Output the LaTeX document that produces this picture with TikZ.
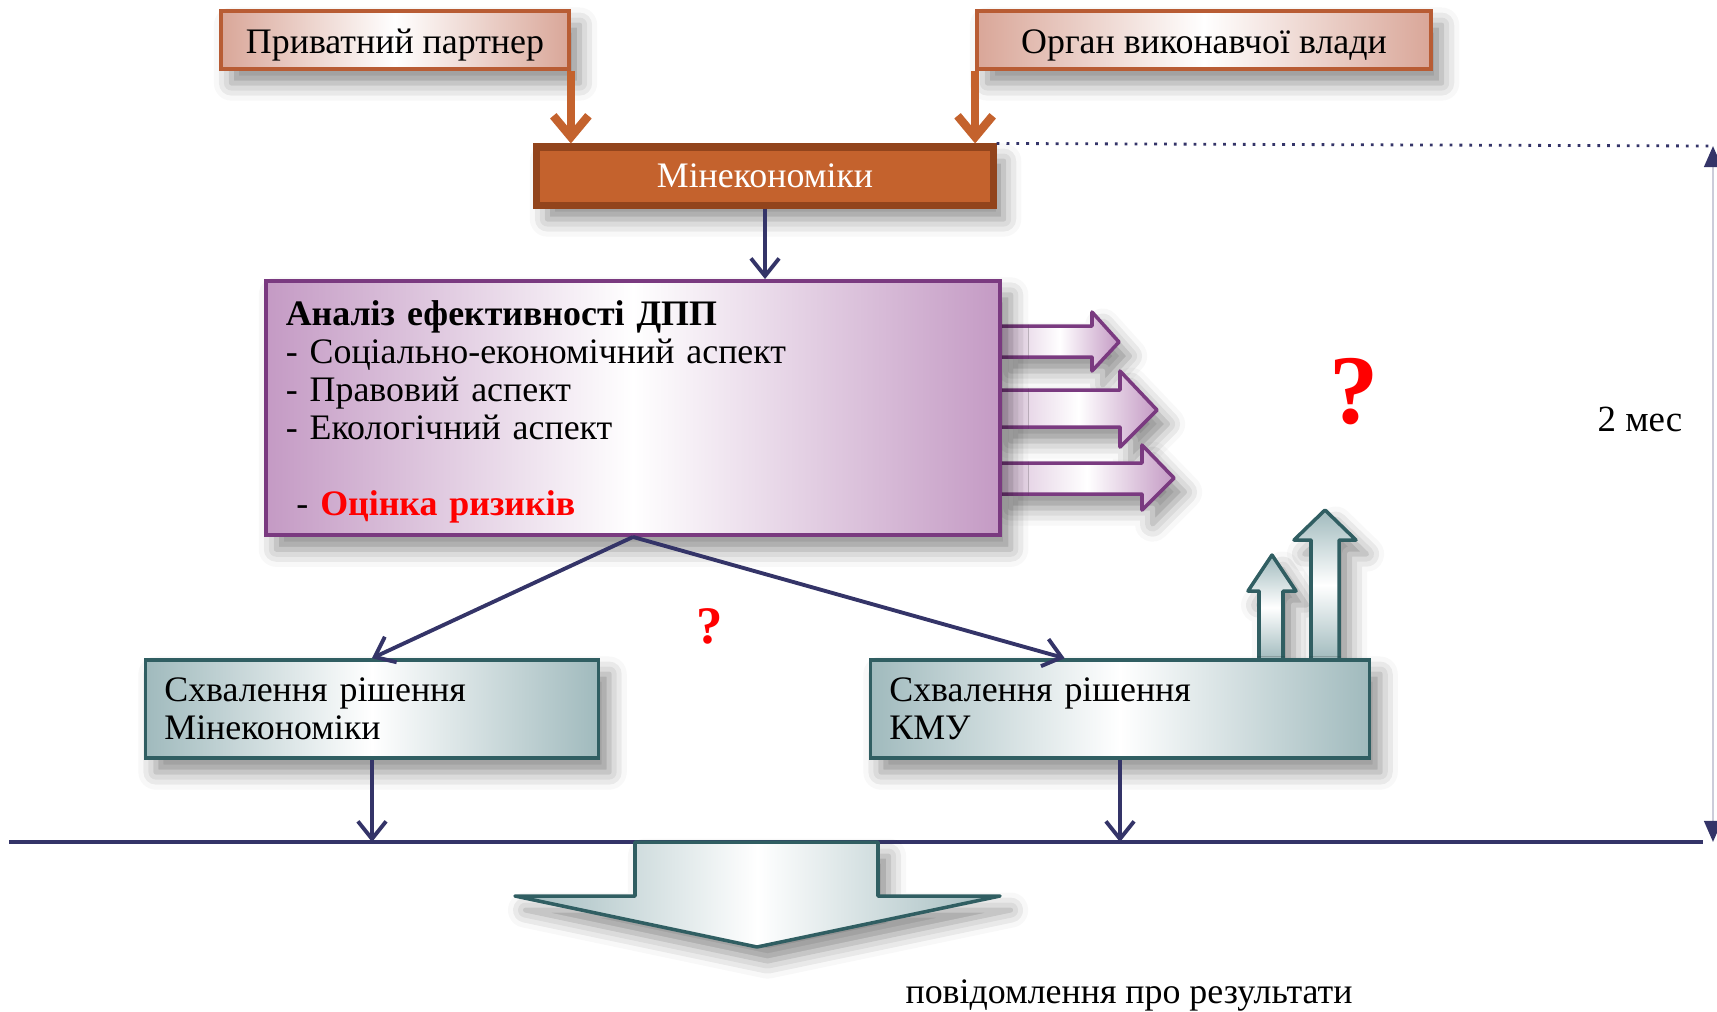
\documentclass[tikz,border=0pt]{standalone}
\usepackage{fontspec}
\setmainfont{Liberation Serif}
\usetikzlibrary{arrows.meta,calc,shadows.blur}

\definecolor{rose}{RGB}{217,166,152}
\definecolor{roseline}{RGB}{184,92,52}
\definecolor{rust}{RGB}{196,98,45}
\definecolor{rustline}{RGB}{146,68,28}
\definecolor{navy}{RGB}{52,52,104}
\definecolor{lilac}{RGB}{196,154,196}
\definecolor{lilacline}{RGB}{122,58,128}
\definecolor{sage}{RGB}{160,186,189}
\definecolor{sageline}{RGB}{48,94,98}

\begin{document}
\begin{tikzpicture}[x=0.01cm,y=-0.01cm,
  font=\fontsize{10.2}{10.8}\selectfont,
  soft/.style={blur shadow={shadow xshift=3pt,shadow yshift=-4pt,shadow blur radius=5pt,shadow opacity=45}},
  party/.style={draw=roseline,line width=1pt,left color=rose,right color=rose,middle color=white,minimum height=0.58cm,inner ysep=0pt,text height=10pt,text depth=2.5pt,soft},
  ministry/.style={draw=rustline,line width=2pt,fill=rust,text=white,minimum width=4.56cm,minimum height=0.58cm,soft},
  analysis/.style={draw=lilacline,line width=1pt,left color=lilac,right color=lilac,middle color=white,text width=6.94cm,inner xsep=0.2cm,minimum height=2.52cm,align=left,soft},
  decision/.style={draw=sageline,line width=1pt,left color=sage,right color=sage,middle color=white,inner xsep=0.19cm,minimum height=0.98cm,align=left,soft},
  feed/.style={draw=rust,line width=2.4pt,-{Straight Barb[length=6pt,width=10pt]}},
  link/.style={draw=navy,line width=1.1pt,-{Straight Barb[length=5pt,width=8pt]}},
  dimline/.style={draw=navy!25,line width=0.8pt,{Triangle[length=6pt,width=5pt,color=navy]}-{Triangle[length=6pt,width=5pt,color=navy]}},
  lilacarrow/.style={draw=lilacline,line width=1pt,line join=round,left color=lilac!60,right color=lilac,middle color=white,soft},
  sageup/.style={draw=sageline,line width=1pt,line join=round,top color=sage,bottom color=sage,middle color=white,soft},
  sagedown/.style={draw=sageline,line width=1pt,line join=round,left color=sage,right color=sage,middle color=white,soft},
  ask/.style={text=red,font=\bfseries\fontsize{#1}{#1}\selectfont}
]
\useasboundingbox (0,0) rectangle (1717,1011);

\node[party,minimum width=3.48cm] (pp) at (395,40) {Приватний партнер};
\node[party,minimum width=4.54cm] (org) at (1204,40) {Орган виконавчої влади};
\node[ministry] (min) at (765,176) {Мінекономіки};

% arrows out of the analysis
\draw[lilacarrow] (1000,326) -- (1092,326) -- (1092,312) -- (1119,342) -- (1092,371) -- (1092,357) -- (1000,357) -- cycle;
\draw[lilacarrow] (1000,390) -- (1120,390) -- (1120,371) -- (1157,410) -- (1120,447) -- (1120,427) -- (1000,427) -- cycle;
\draw[lilacarrow] (1000,463) -- (1142,463) -- (1142,445) -- (1174,478) -- (1142,510) -- (1142,494) -- (1000,494) -- cycle;

\node[analysis] (an) at (633,408) {\rule{0pt}{9.5pt}\textbf{Аналіз ефективності ДПП}\\
- Соціально-економічний аспект\\
- Правовий аспект\\
- Екологічний аспект\\[10.8pt]
\hspace{3pt}- \textcolor{red}{\textbf{Оцінка ризиків}}};

% arrows up from the KMU decision
\draw[sageup] (1259,660) -- (1259,591) -- (1248,591) -- (1272,555) -- (1296,591) -- (1283,591) -- (1283,660) -- cycle;
\draw[sageup] (1311,660) -- (1311,540) -- (1294,540) -- (1325,510) -- (1356,540) -- (1339,540) -- (1339,660) -- cycle;

\node[decision,text width=4.15cm] (lb) at (372,709) {Схвалення рішення\\Мінекономіки};
\node[decision,text width=4.61cm] (rb) at (1120,709) {Схвалення рішення\\КМУ};

\node[ask=28] (q1) at (1354,392) {?};
\node[ask=15] (q2) at (710,626) {?};
\node[font=\fontsize{10.5}{10.5}\selectfont] (dur) at (1640,419) {2 мес};

\coordinate (lineL) at (9,842);
\coordinate (lineR) at (1703,842);
\coordinate (dimtop) at (1713,146);
\coordinate (dimbot) at (1713,842);
\coordinate (rbin) at ($(rb.north west)!0.39!(rb.north east)$);

\draw[feed] (pp.south east) -- (pp.south east |- min.north);
\draw[feed] (org.south west) -- (org.south west |- min.north);
\draw[link] (min.south) -- (min.south |- an.north);
\draw[link] (an.south) -- (lb.north);
\draw[link] (an.south) -- (rbin);
\draw[link] (lb.south) -- (lb.south |- lineL);
\draw[link] (rb.south) -- (rb.south |- lineL);

\draw[navy,dotted,line width=0.8pt] (min.north east) -- (dimtop);
\draw[dimline] (dimbot) -- (dimtop);
\draw[navy,line width=1.2pt] (lineL) -- (lineR);

% result
\draw[sagedown] (635,842) -- (878,842) -- (878,896) -- (1000,896) -- (757,947) -- (515,896) -- (635,896) -- cycle;
\node (res) at (1129,995) {повідомлення про результати};
\end{tikzpicture}
\end{document}
